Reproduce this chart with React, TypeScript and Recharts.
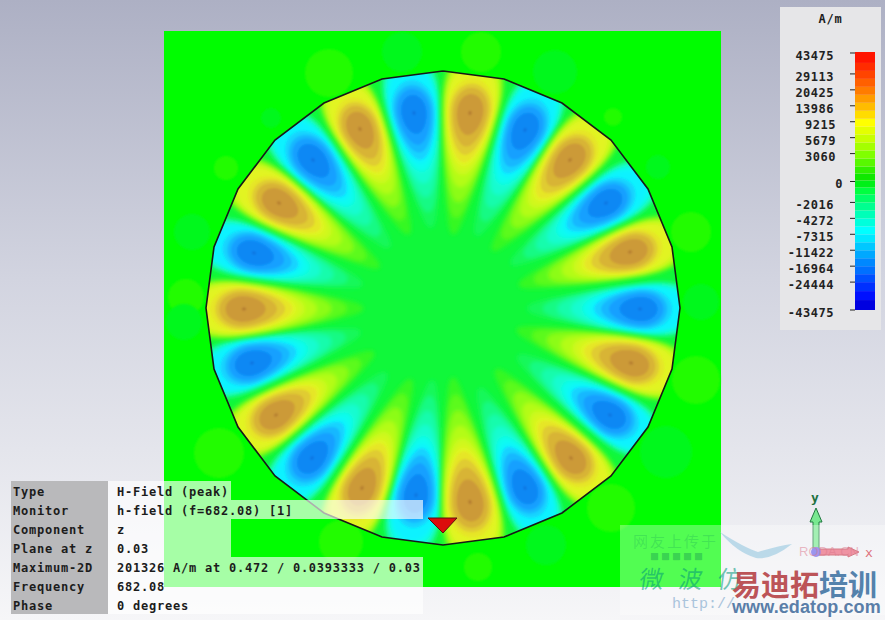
import React from 'react'
import { BarChart, Bar, ReferenceArea, Scatter, ScatterChart, XAxis, YAxis } from 'recharts'

// field peaks: offset from the disc centre, value in A/m
const positivePeaks = [
  { x: 27, y: 195, value: 19000 },
  { x: 127, y: 148, value: 18500 },
  { x: 187, y: 56, value: 18000 },
  { x: 188, y: -55, value: 18500 },
  { x: 128, y: -150, value: 18000 },
  { x: 27, y: -194, value: 19500 },
  { x: -81, y: -180, value: 18500 },
  { x: -167, y: -107, value: 18000 },
  { x: -199, y: -1, value: 18500 },
  { x: -164, y: 105, value: 18500 },
  { x: -83, y: 179, value: 18000 },
]
const negativePeaks = [
  { x: 82, y: 178, value: -18000 },
  { x: 163, y: 105, value: -17500 },
  { x: 197, y: -1, value: -17500 },
  { x: 167, y: -107, value: -17000 },
  { x: 82, y: -180, value: -17000 },
  { x: -27, y: -187, value: -18000 },
  { x: -131, y: -150, value: -17500 },
  { x: -191, y: -55, value: -17500 },
  { x: -189, y: 55, value: -17500 },
  { x: -130, y: 148, value: -18000 },
  { x: -29, y: 195, value: -18000 },
]

// weak spots outside the disc, z = extent
const weakPositive = [
  { x: -114, y: 235, z: 24 }, { x: -217, y: 140, z: 12 }, { x: -257, y: 11, z: 18 },
  { x: 38, y: 256, z: 20 }, { x: 170, y: 191, z: 9 }, { x: 248, y: 76, z: 20 },
  { x: 253, y: -72, z: 24 }, { x: 168, y: -200, z: 24 }, { x: 35, y: -259, z: 14 },
  { x: -102, y: -234, z: 22 }, { x: -224, y: -145, z: 25 },
]
const weakNegative = [
  { x: -172, y: 190, z: 10 }, { x: -251, y: 76, z: 18 }, { x: -41, y: 256, z: 20 },
  { x: 112, y: 236, z: 22 }, { x: 215, y: 141, z: 12 }, { x: 258, y: 6, z: 18 },
  { x: 223, y: -144, z: 26 }, { x: 103, y: -237, z: 20 }, { x: -259, y: -14, z: 18 },
]

// the outline of the disc, a 24 sided polygon
const rimPoints = [
  { x: 0, y: 237 }, { x: 61, y: 229 }, { x: 119, y: 205 }, { x: 168, y: 168 }, { x: 205, y: 119 },
  { x: 229, y: 61 }, { x: 237, y: 0 }, { x: 229, y: -61 }, { x: 205, y: -119 }, { x: 168, y: -168 },
  { x: 119, y: -205 }, { x: 61, y: -229 }, { x: 0, y: -237 }, { x: -61, y: -229 }, { x: -119, y: -205 },
  { x: -168, y: -168 }, { x: -205, y: -119 }, { x: -229, y: -61 }, { x: -237, y: 0 }, { x: -229, y: 61 },
  { x: -205, y: 119 }, { x: -168, y: 168 }, { x: -119, y: 205 }, { x: -61, y: 229 }, { x: 0, y: 237 },
]
const discCentre = [{ x: 0, y: 0 }]
const maxMarker = [{ x: 0, y: -217 }]
const axesOrigin = [{ x: 373, y: -244 }]

// colour scale
const colorTickLabels = ['-43475', '-24444', '-16964', '-11422', '-7315', '-4272', '-2016', '0', '3060', '5679', '9215', '13986', '20425', '29113', '43475']
const colorTickPositions = [0, 28, 44, 60, 76, 92, 108, 129, 157, 173, 189, 205, 221, 237, 258]
const colorBandSpans = [10, 9, 9, 8, 8, 8, 8, 8, 8, 8, 8, 8, 8, 8, 7, 7, 7, 7, 8, 8, 8, 8, 8, 8, 8, 8, 8, 8, 8, 8, 8, 11]
const colorBandFills = [
  '#0000e0', '#0010ff', '#0030ff', '#0050ff', '#0070ff', '#0088ff', '#00a8ff', '#00c8ff', '#00e8ff', '#00ffff', '#00ffdc', '#00ffb8', '#00ff90', '#00ff68', '#00ff40', '#00f018',
  '#10e800', '#30f000', '#58f800', '#80ff00', '#a4ff00', '#c8ff00', '#e4ff00', '#ffff00', '#ffdc00', '#ffbc00', '#ff9c00', '#ff7c00', '#ff6000', '#ff4400', '#ff2c00', '#ff1400',
]
const colorBandRow = Object.fromEntries(colorBandSpans.map((span, i) => [`band${i}`, span]))

// info table
const infoLabels = ['Type', 'Monitor', 'Component', 'Plane at z', 'Maximum-2D', 'Frequency', 'Phase']
const infoValues = ['H-Field (peak)', 'h-field (f=682.08) [1]', 'z', '0.03', '201326 A/m at 0.472 / 0.0393333 / 0.03', '682.08', '0 degrees']
const infoWide = [false, true, false, false, true, true, true]

// nested contours of one lobe: reach towards centre, reach towards rim, half angle, corner power
const softLevels = [
  { inner: 116, outer: 60, angle: 7.9, power: 0.8, pos: '#34f824', neg: '#14f85a' },
  { inner: 100, outer: 60, angle: 7.6, power: 0.82, pos: '#5cfa1c', neg: '#14fa84' },
  { inner: 85, outer: 60, angle: 7.3, power: 0.85, pos: '#8cfc14', neg: '#14fcac' },
  { inner: 71, outer: 56, angle: 7.0, power: 0.88, pos: '#b4fc18', neg: '#12fcd0' },
  { inner: 59, outer: 52, angle: 6.8, power: 0.9, pos: '#d0f81c', neg: '#10fcf0' },
  { inner: 51, outer: 46, angle: 6.6, power: 0.95, pos: '#e2f420', neg: '#10f2ff' },
]
const bandLevels = [
  { inner: 47, outer: 33, angle: 6.1, power: 1, pos: '#e6e628', neg: '#14d4ff' },
  { inner: 40, outer: 28, angle: 5.5, power: 1, pos: '#e0cc30', neg: '#14b8ff' },
  { inner: 32, outer: 24, angle: 4.7, power: 1, pos: '#d8b434', neg: '#14a0ff' },
  { inner: 21, outer: 18, angle: 3.6, power: 1, pos: '#cc9a38', neg: '#0c88f4' },
  { inner: 2, outer: 2, angle: 0.4, power: 1, pos: '#b07830', neg: '#0a70dc' },
]

const DEG = Math.PI / 180

const spow = (v: number, p: number) => Math.sign(v) * Math.pow(Math.abs(v), p)

const levelPaths = (levels: typeof softLevels, payload: any, cX: number, cY: number) => {
  const { x, y, value } = payload
  const peakR = Math.hypot(x, y)
  const heading = Math.atan2(x, y) / DEG
  const k = Math.abs(value) / 18000
  return levels.map((lvl) => {
    let d = ''
    for (let i = 0; i < 72; i++) {
      const s = (i / 72) * 2 * Math.PI
      const c = spow(Math.cos(s), lvl.power)
      const deg = heading + lvl.angle * k * spow(Math.sin(s), lvl.power)
      const r = peakR + (c > 0 ? lvl.outer : lvl.inner) * k * c
      const px = cX + r * Math.sin(deg * DEG)
      const py = cY - r * Math.cos(deg * DEG)
      d += `${i ? 'L' : 'M'}${px.toFixed(1)} ${py.toFixed(1)}`
    }
    return <path key={lvl.inner} d={d + 'Z'} fill={value > 0 ? lvl.pos : lvl.neg} />
  })
}

const Lobe = (props: any) => {
  const { cx, cy, payload } = props
  const cX = cx - payload.x
  const cY = cy + payload.y
  return (
    <g clipPath="url(#discClip)">
      <g filter="url(#tailSoft)">{levelPaths(softLevels, payload, cX, cY)}</g>
      <g filter="url(#bandSoft)">{levelPaths(bandLevels, payload, cX, cY)}</g>
    </g>
  )
}

const WeakSpot = (fill: string) => (props: any) => (
  <circle cx={props.cx} cy={props.cy} r={props.payload.z} fill={fill} filter="url(#bandSoft)" />
)

const Disc = (props: any) => {
  const pts = rimPoints.map((p) => `${props.cx + p.x},${props.cy - p.y}`).join(' ')
  return (
    <g>
      <clipPath id="discClip">
        <polygon points={pts} />
      </clipPath>
      <polygon points={pts} fill="#10f83a" />
    </g>
  )
}

const Marker = (props: any) => {
  const { cx, cy } = props
  return (
    <path
      d={`M${cx - 15} ${cy - 7}L${cx + 14} ${cy - 7}L${cx} ${cy + 8}Z`}
      fill="#dc0c0c"
      stroke="#5a1010"
      strokeWidth={1}
    />
  )
}

const AxesTriad = (props: any) => {
  const { cx, cy } = props
  return (
    <g>
      <path
        d={`M${cx - 3} ${cy}V${cy - 30}H${cx - 6}L${cx} ${cy - 44}L${cx + 6} ${cy - 30}H${cx + 3}V${cy}Z`}
        fill="#78e890"
        stroke="#207840"
      />
      <path
        d={`M${cx} ${cy - 3}H${cx + 32}V${cy - 5}L${cx + 43} ${cy}L${cx + 32} ${cy + 5}V${cy + 3}H${cx}Z`}
        fill="#e86078"
        stroke="#c04050"
      />
      <circle cx={cx} cy={cy} r={5} fill="#6a62e6" />
      <text x={cx - 1} y={cy - 50} textAnchor="middle" fontSize={13} fontFamily="DejaVu Sans Mono" fontWeight="bold" fill="#207040">y</text>
      <text x={cx + 53} y={cy + 5} textAnchor="middle" fontSize={13} fontFamily="DejaVu Sans Mono" fill="#d03040">x</text>
    </g>
  )
}

const ColorTick = (props: any) => {
  const { y, payload } = props
  const label = colorTickLabels[colorTickPositions.indexOf(payload.value)]
  return (
    <text
      x={label === '0' ? 63 : label.length === 4 ? 56 : 54}
      y={y + 7}
      textAnchor="end"
      fontSize={12}
      fontFamily="DejaVu Sans Mono"
      fontWeight="bold"
      letterSpacing={0.5}
      fill="#222"
    >
      {label}
    </text>
  )
}

const monoText: React.CSSProperties = {
  position: 'absolute',
  fontFamily: '"DejaVu Sans Mono"',
  fontWeight: 'bold',
  fontSize: 12,
  letterSpacing: 0.77,
  lineHeight: '19px',
  color: '#1c1c1c',
  whiteSpace: 'pre',
}

const Watermark = () => (
  <>
    <div style={{ position: 'absolute', left: 620, top: 525, width: 265, height: 90, background: 'rgba(255,255,255,0.32)' }} />
    <svg width={885} height={620} style={{ position: 'absolute', left: 0, top: 0 }}>
      <path d="M720 532Q745 548 758 552Q778 546 792 544Q772 560 756 558Q736 552 720 532Z" fill="#a8d0e4" opacity={0.75} />
    </svg>
    <div style={{ position: 'absolute', left: 633, top: 530, fontFamily: '"Noto Sans CJK SC"', fontSize: 15, letterSpacing: 2, color: 'rgba(0,130,90,0.2)', whiteSpace: 'pre' }}>网友上传于</div>
    <div style={{ position: 'absolute', left: 650, top: 550, fontFamily: '"Noto Sans CJK SC"', fontSize: 9, letterSpacing: 2, color: 'rgba(0,110,80,0.3)', whiteSpace: 'pre' }}>■■■■■</div>
    <div style={{ position: 'absolute', left: 640, top: 560, fontFamily: '"Noto Sans CJK SC"', fontSize: 24, letterSpacing: 15, color: 'rgba(0,150,120,0.55)', whiteSpace: 'pre', transform: 'skewX(-8deg)' }}>微波仿</div>
    <div style={{ position: 'absolute', left: 799, top: 544, fontFamily: '"Liberation Sans"', fontSize: 13, color: 'rgba(220,120,140,0.5)', whiteSpace: 'pre' }}>RODA.CN</div>
    <div style={{ position: 'absolute', left: 672, top: 596, fontFamily: '"Liberation Mono"', fontSize: 15, color: '#aac4dc', whiteSpace: 'pre' }}>http://</div>
    <div style={{ position: 'absolute', left: 732, top: 569, fontFamily: '"Noto Sans CJK SC"', fontWeight: 'bold', fontSize: 29, lineHeight: '29px', whiteSpace: 'pre', color: '#bc5458' }}>
      易迪拓<span style={{ color: '#5482ac' }}>培训</span>
    </div>
    <div style={{ position: 'absolute', left: 732, top: 598, fontFamily: '"Liberation Sans"', fontWeight: 'bold', fontSize: 18, lineHeight: '18px', letterSpacing: 0.1, color: '#5a7ea8', whiteSpace: 'pre' }}>www.edatop.com</div>
  </>
)

export default function App() {
  return (
    <div
      style={{
        position: 'fixed',
        left: 0,
        top: 0,
        width: 885,
        height: 620,
        overflow: 'hidden',
        background: 'linear-gradient(#adb0c4 0%, #d2d4e0 45%, #f6f6f8 100%)',
      }}
    >
      <svg width={0} height={0} style={{ position: 'absolute' }}>
        <defs>
          <filter id="tailSoft" filterUnits="userSpaceOnUse" x={0} y={0} width={885} height={620}>
            <feGaussianBlur stdDeviation={2} />
          </filter>
          <filter id="bandSoft" filterUnits="userSpaceOnUse" x={0} y={0} width={885} height={620}>
            <feGaussianBlur stdDeviation={0.8} />
          </filter>
        </defs>
      </svg>

      <div style={{ position: 'absolute', left: 0, top: 0 }}>
        <ScatterChart width={885} height={620} margin={{ top: 0, right: 0, bottom: 0, left: 0 }}>
          <XAxis type="number" dataKey="x" domain={[-443, 442]} hide allowDataOverflow />
          <YAxis type="number" dataKey="y" domain={[-312, 308]} hide allowDataOverflow />
          <ReferenceArea x1={-279} x2={278} y1={-279} y2={277} fill="#00fd00" fillOpacity={1} stroke="none" />
          <Scatter data={weakPositive} shape={WeakSpot('#24fc04')} isAnimationActive={false} />
          <Scatter data={weakNegative} shape={WeakSpot('#04f81c')} isAnimationActive={false} />
          <Scatter data={discCentre} shape={Disc} isAnimationActive={false} />
          <Scatter data={negativePeaks} shape={Lobe} isAnimationActive={false} />
          <Scatter data={positivePeaks} shape={Lobe} isAnimationActive={false} />
          <Scatter
            data={rimPoints}
            line={{ stroke: '#181818', strokeWidth: 1.6 }}
            shape={() => null}
            isAnimationActive={false}
          />
          <Scatter data={maxMarker} shape={Marker} isAnimationActive={false} />
          <Scatter data={axesOrigin} shape={AxesTriad} isAnimationActive={false} />
        </ScatterChart>
      </div>

      <div style={{ position: 'absolute', left: 780, top: 7, width: 101, height: 323, background: '#e6e6e8' }} />
      <div style={{ ...monoText, left: 780, width: 101, top: 10, textAlign: 'center' }}>A/m</div>
      <div style={{ position: 'absolute', left: 780, top: 40 }}>
        <BarChart
          width={100}
          height={280}
          data={[colorBandRow]}
          margin={{ top: 12, right: 5, bottom: 10, left: 0 }}
          barCategoryGap={0}
        >
          <XAxis hide />
          <YAxis
            type="number"
            domain={[0, 258]}
            ticks={colorTickPositions}
            interval={0}
            width={75}
            axisLine={false}
            tickLine={{ stroke: '#222' }}
            tickSize={5}
            tick={ColorTick}
          />
          {colorBandFills.map((fill, i) => (
            <Bar key={fill} dataKey={`band${i}`} stackId="scale" fill={fill} isAnimationActive={false} />
          ))}
        </BarChart>
      </div>

      <div style={{ position: 'absolute', left: 11, top: 481, width: 97, height: 133, background: '#b9b9bb' }} />
      {infoLabels.map((label, i) => (
        <React.Fragment key={label}>
          <div
            style={{
              position: 'absolute',
              left: 108,
              top: 481 + i * 19,
              width: infoWide[i] ? 315 : 123,
              height: 19,
              background: 'rgba(255,255,255,0.65)',
            }}
          />
          <div style={{ ...monoText, left: 13, top: 483 + i * 19 }}>{label}</div>
          <div style={{ ...monoText, left: 117, top: 483 + i * 19 }}>{infoValues[i]}</div>
        </React.Fragment>
      ))}

      <Watermark />
    </div>
  )
}
